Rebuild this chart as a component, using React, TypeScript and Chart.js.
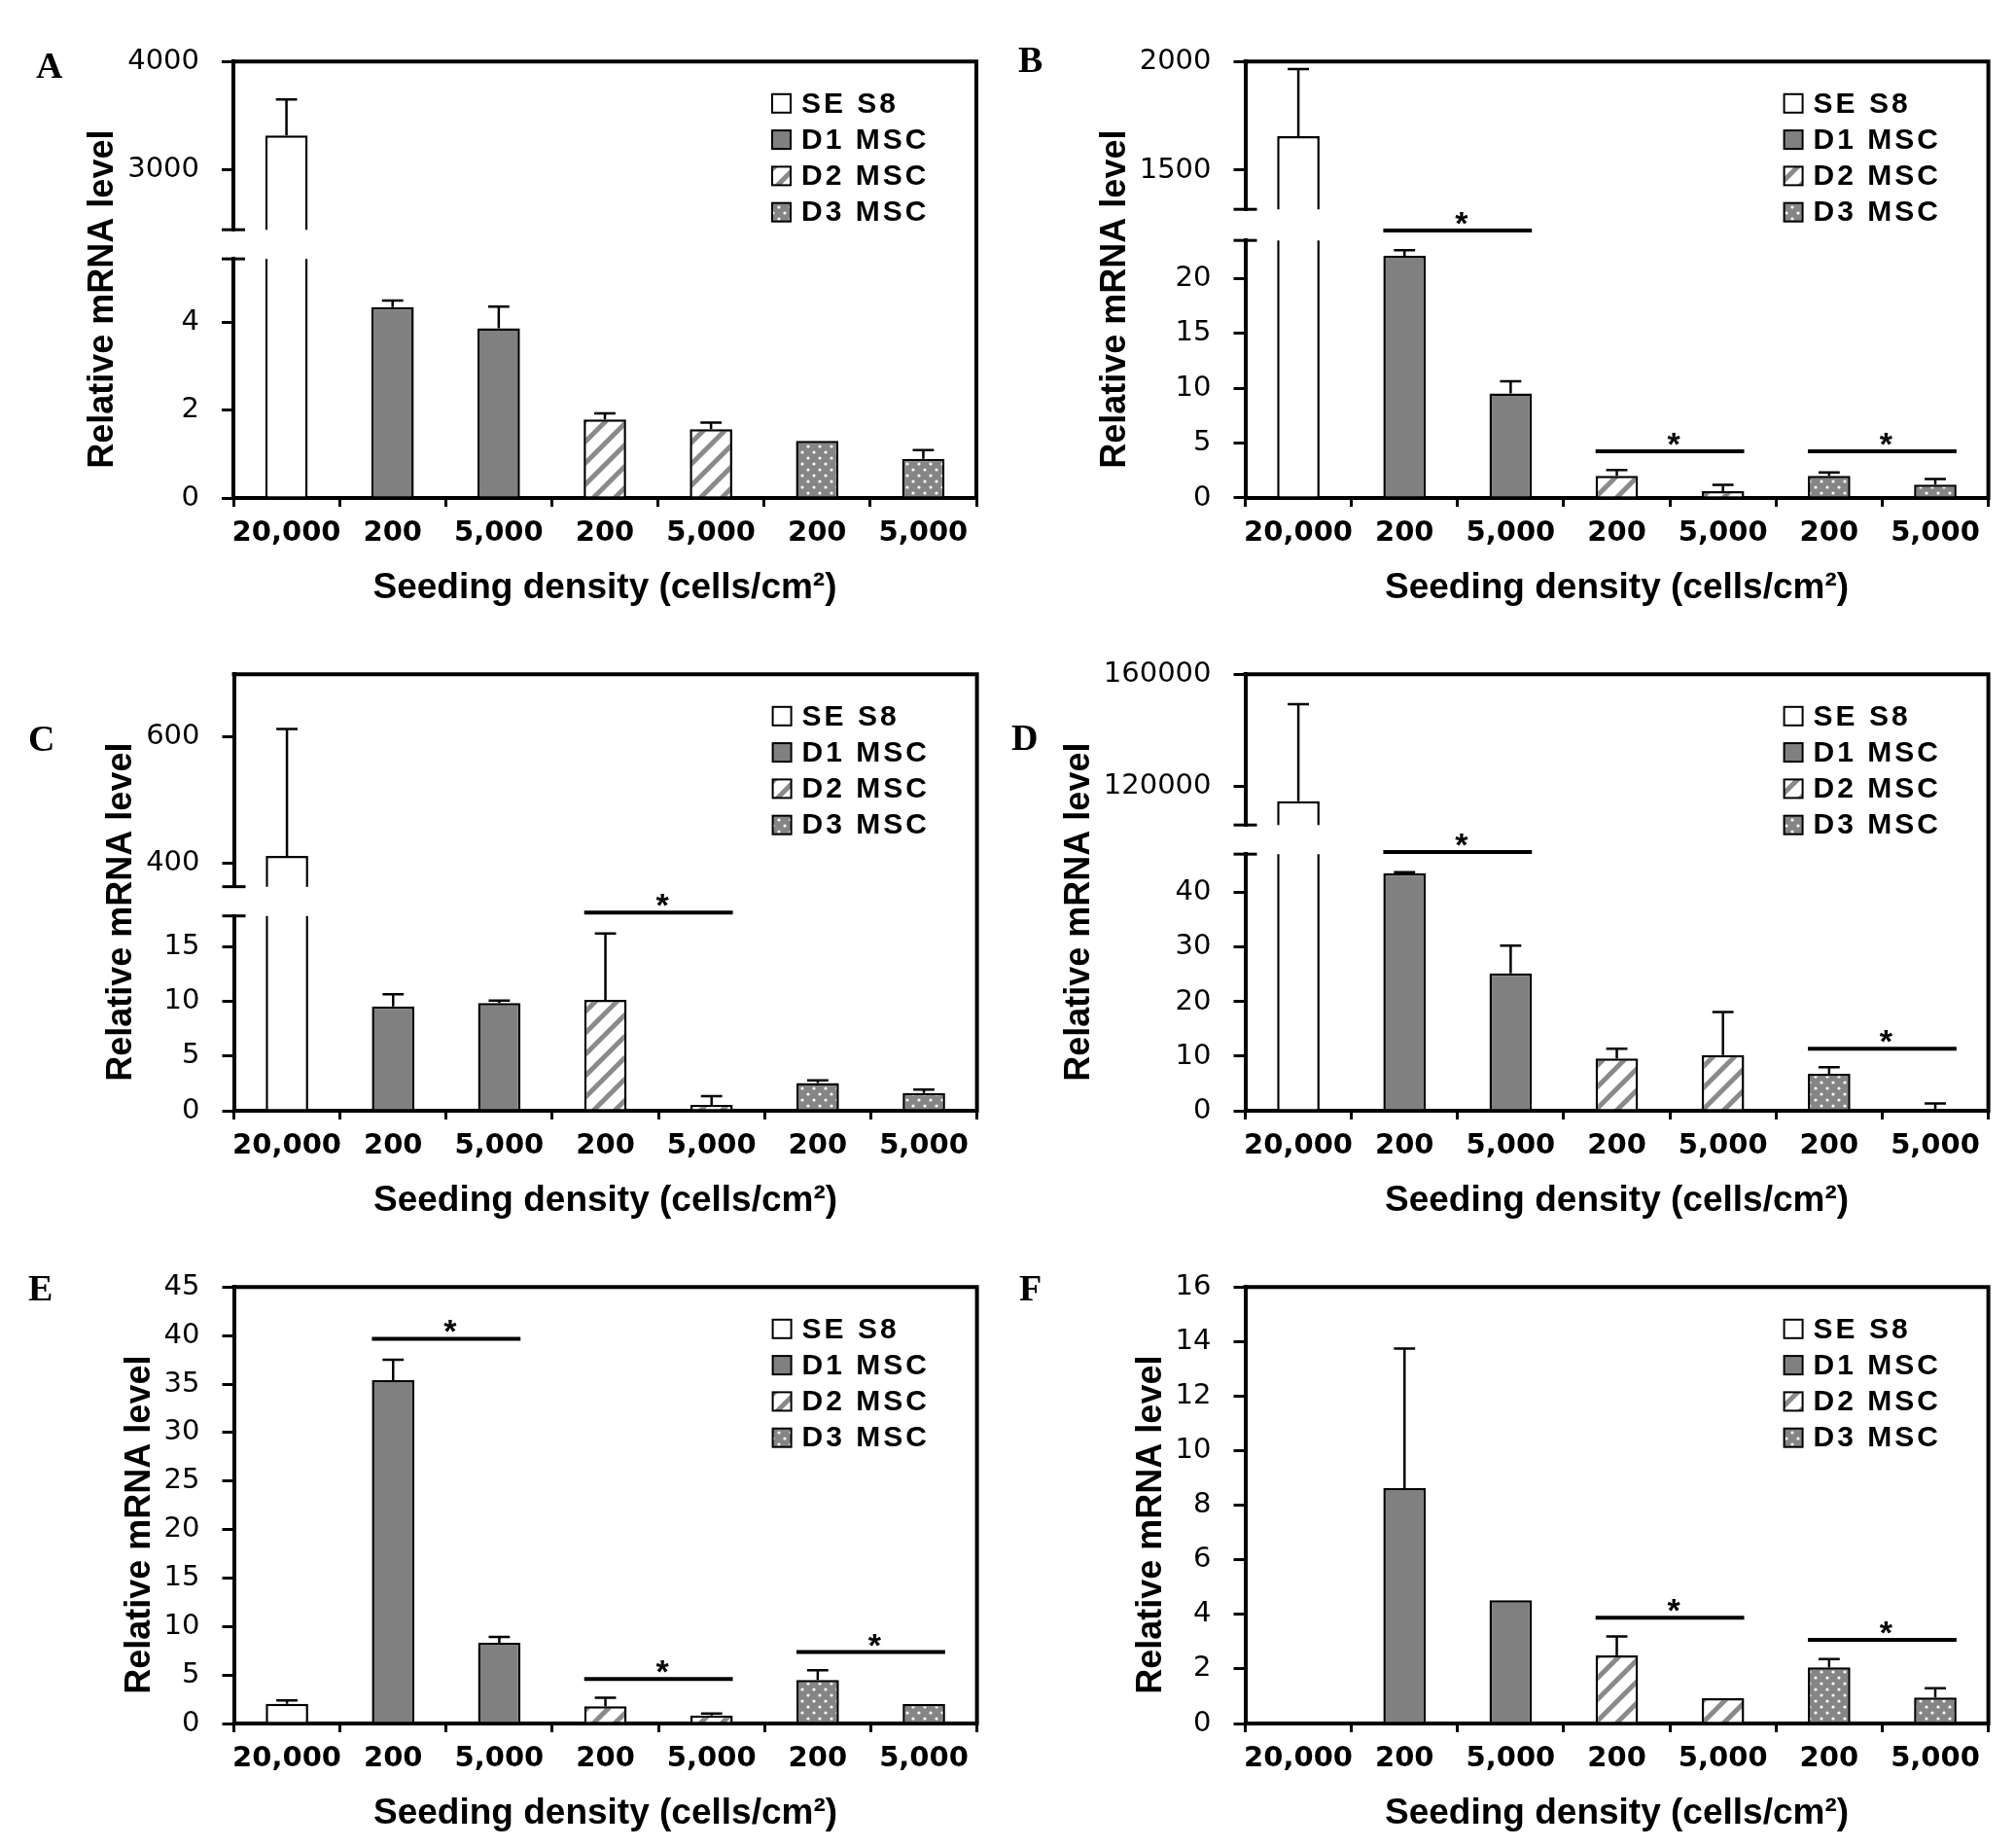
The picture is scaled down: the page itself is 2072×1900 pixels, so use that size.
import React, { useEffect, useRef } from 'react';
import { Chart, registerables } from 'chart.js';

Chart.register(...registerables);

// ---------- shared data ----------
const categories = ['20,000', '200', '5,000', '200', '5,000', '200', '5,000'];
const seriesNames = ['SE S8', 'D1 MSC', 'D2 MSC', 'D3 MSC'];
const seriesOfCategory = [0, 1, 1, 2, 2, 3, 3];
const yTitleText = 'Relative mRNA level';
const xTitleText = 'Seeding density (cells/cm²)';

// ---------- panel A ----------
const aMeans = [3320, 4.35, 3.87, 1.79, 1.57, 1.3, 0.89];
const aErrors = [330, 0.15, 0.49, 0.14, 0.15, 0, 0.2];
const aUpperRange = [2450, 4000];
const aUpperTicks = [3000, 4000];
const aLowerRange = [0, 5.45];
const aLowerTicks = [0, 2, 4];
const aSig: number[][] = [];

// ---------- panel B ----------
const bMeans = [1657, 22.1, 9.55, 2.02, 0.62, 2.02, 1.22];
const bErrors = [308, 0.5, 1.1, 0.54, 0.57, 0.3, 0.5];
const bUpperRange = [1320, 2000];
const bUpperTicks = [1500, 2000];
const bLowerRange = [0, 23.5];
const bLowerTicks = [0, 5, 10, 15, 20];
const bSig = [[1, 2, 24.4], [3, 4, 4.25], [5, 6, 4.25]];

// ---------- panel C ----------
const cMeans = [411, 9.53, 9.85, 10.12, 0.54, 2.53, 1.63];
const cErrors = [202, 1.12, 0.21, 6.08, 0.8, 0.24, 0.31];
const cUpperRange = [362, 700];
const cUpperTicks = [400, 600];
const cLowerRange = [0, 17.8];
const cLowerTicks = [0, 5, 10, 15];
const cSig = [[3, 4, 18.1]];

// ---------- panel D ----------
const dMeans = [114540, 43.6, 25.2, 9.6, 10.2, 6.8, 0.15];
const dErrors = [34760, 0.2, 5.1, 1.8, 7.9, 1.2, 1.2];
const dUpperRange = [106000, 160000];
const dUpperTicks = [120000, 160000];
const dLowerRange = [0, 47.1];
const dLowerTicks = [0, 10, 20, 30, 40];
const dSig = [[1, 2, 47.5], [5, 6, 11.4]];

// ---------- panel E ----------
const eMeans = [2.03, 35.4, 8.33, 1.77, 0.83, 4.5, 2.0];
const eErrors = [0.34, 2.1, 0.6, 0.9, 0.2, 1.0, 0];
const eRange = [0, 45];
const eTicks = [0, 5, 10, 15, 20, 25, 30, 35, 40, 45];
const eSig = [[1, 2, 39.67], [3, 4, 4.6], [5, 6, 7.37]];

// ---------- panel F ----------
const fMeans = [0, 8.63, 4.52, 2.5, 0.93, 2.06, 0.95];
const fErrors = [0, 5.12, 0, 0.69, 0, 0.3, 0.34];
const fRange = [0, 16];
const fTicks = [0, 2, 4, 6, 8, 10, 12, 14, 16];
const fSig = [[3, 4, 3.88], [5, 6, 3.07]];

// ---------- layout ----------
const CW = 1036;
const CH = 630;
const PLOT_TOP = 63.3;
const XAXIS_H = 118;

interface PanelDef {
  letter: string;
  means: number[];
  errors: number[];
  upper?: { range: number[]; ticks: number[] };
  lower: { range: number[]; ticks: number[] };
  sig: number[][];
  left: number;
  top: number;
  axisW: number;
  padRight: number;
  weights?: number[];
  letterX: number;
  letterY: number;
}

const panels: PanelDef[] = [
  { letter: 'A', means: aMeans, errors: aErrors, upper: { range: aUpperRange, ticks: aUpperTicks }, lower: { range: aLowerRange, ticks: aLowerTicks }, sig: aSig, left: 0, top: 0, axisW: 240, padRight: 32, weights: [173, 30, 246], letterX: 37, letterY: 80 },
  { letter: 'B', means: bMeans, errors: bErrors, upper: { range: bUpperRange, ticks: bUpperTicks }, lower: { range: bLowerRange, ticks: bLowerTicks }, sig: bSig, left: 1030, top: 0, axisW: 250.5, padRight: 21.4, weights: [152, 32, 265], letterX: 17, letterY: 74 },
  { letter: 'C', means: cMeans, errors: cErrors, upper: { range: cUpperRange, ticks: cUpperTicks }, lower: { range: cLowerRange, ticks: cLowerTicks }, sig: cSig, left: 0, top: 630, axisW: 240.5, padRight: 31.4, weights: [218, 30, 200], letterX: 29, letterY: 142 },
  { letter: 'D', means: dMeans, errors: dErrors, upper: { range: dUpperRange, ticks: dUpperTicks }, lower: { range: dLowerRange, ticks: dLowerTicks }, sig: dSig, left: 1030, top: 630, axisW: 250.5, padRight: 21.4, weights: [155, 30, 264], letterX: 10, letterY: 141 },
  { letter: 'E', means: eMeans, errors: eErrors, lower: { range: eRange, ticks: eTicks }, sig: eSig, left: 0, top: 1260, axisW: 240.5, padRight: 31.4, letterX: 29, letterY: 77 },
  { letter: 'F', means: fMeans, errors: fErrors, lower: { range: fRange, ticks: fTicks }, sig: fSig, left: 1030, top: 1260, axisW: 250.5, padRight: 21.4, letterX: 18, letterY: 77 },
];

// ---------- fills ----------
function makeFills(): any[] {
  const T = 22;
  const h = document.createElement('canvas');
  h.width = T;
  h.height = T;
  const hg = h.getContext('2d')!;
  hg.fillStyle = '#ffffff';
  hg.fillRect(0, 0, T, T);
  hg.strokeStyle = '#8a8a8a';
  hg.lineWidth = 5;
  hg.beginPath();
  for (let k = -1; k <= 1; k++) {
    hg.moveTo(k * T - 3, T + 3);
    hg.lineTo(k * T + T + 3, -3);
  }
  hg.stroke();

  const D = 12;
  const d = document.createElement('canvas');
  d.width = D;
  d.height = D;
  const dg = d.getContext('2d')!;
  dg.fillStyle = '#858585';
  dg.fillRect(0, 0, D, D);
  dg.fillStyle = '#ffffff';
  [[3, 3], [9, 9]].forEach(([x, y]) => {
    dg.beginPath();
    dg.arc(x, y, 1.6, 0, Math.PI * 2);
    dg.fill();
  });
  return ['#ffffff', '#808080', hg.createPattern(h, 'repeat'), dg.createPattern(d, 'repeat')];
}

const Y_TICK_FONT = { family: 'DejaVu Sans', size: 29, weight: 'normal' as const };
const TICK_LEN = 12;
const TICK_PAD = 23;

function buildChart(canvas: HTMLCanvasElement, p: PanelDef) {
  const fills = makeFills();
  const broken = !!p.upper;
  const axisIds = broken ? ['yHigh', 'yLow'] : ['y'];
  const datasets: any[] = [];
  axisIds.forEach((axisId) => {
    seriesNames.forEach((name, s) => {
      datasets.push({
        label: name,
        data: categories.map((_, i) => (seriesOfCategory[i] === s ? p.means[i] : null)),
        errors: categories.map((_, i) => (seriesOfCategory[i] === s ? p.errors[i] : null)),
        yAxisID: axisId,
        backgroundColor: fills[s],
        borderColor: '#000000',
        borderWidth: 2.5,
        grouped: false,
        barPercentage: 0.4,
        categoryPercentage: 1,
        clip: 0,
      });
    });
  });

  const makeY = (range: number[], ticks: number[], weight: number, stackWeight?: number) => {
    const o: any = {
      type: 'linear',
      position: 'left',
      min: range[0],
      max: range[1],
      weight,
      afterBuildTicks: (sc: any) => {
        sc.ticks = ticks.map((v) => ({ value: v }));
      },
      afterFit: (sc: any) => {
        sc.width = p.axisW;
      },
      ticks: { font: Y_TICK_FONT, color: '#000000', padding: TICK_PAD, callback: (v: any) => String(v) },
      grid: { display: true, drawOnChartArea: false, drawTicks: true, tickLength: TICK_LEN, tickWidth: 3, tickColor: '#000000', color: '#000000', lineWidth: 3 },
      border: { display: true, color: '#000000', width: 4 },
    };
    if (stackWeight !== undefined) {
      o.stack = 'ystack';
      o.stackWeight = stackWeight;
    }
    return o;
  };

  const scales: any = {
    x: {
      type: 'category',
      offset: true,
      grid: { display: true, offset: true, drawOnChartArea: false, drawTicks: true, tickLength: 9, tickWidth: 3, tickColor: '#000000', color: '#000000', lineWidth: 3 },
      border: { display: true, color: '#000000', width: 4 },
      ticks: { font: { family: 'DejaVu Sans', size: 29, weight: 'bold' }, color: '#000000', padding: 10, maxRotation: 0, minRotation: 0, autoSkip: false },
      title: { display: true, text: xTitleText, color: '#000000', font: { family: 'Liberation Sans', size: 37, weight: 'bold' }, padding: { top: 0, bottom: 3 } },
      afterFit: (sc: any) => {
        sc.height = XAXIS_H;
      },
    },
  };
  if (broken) {
    const w = p.weights!;
    scales.yHigh = makeY(p.upper!.range, p.upper!.ticks, 3, w[0]);
    scales.yGap = {
      type: 'linear',
      position: 'left',
      stack: 'ystack',
      stackWeight: w[1],
      weight: 2,
      min: 0,
      max: 1,
      afterFit: (sc: any) => {
        sc.width = p.axisW;
      },
      ticks: { display: false },
      grid: { display: false, drawTicks: false },
      border: { display: false },
    };
    scales.yLow = makeY(p.lower.range, p.lower.ticks, 1, w[2]);
  } else {
    scales.y = makeY(p.lower.range, p.lower.ticks, 1);
  }

  const decor = {
    id: 'decor',
    afterDatasetsDraw(chart: any) {
      const ctx = chart.ctx as CanvasRenderingContext2D;
      const ca = chart.chartArea;
      // error bars
      chart.data.datasets.forEach((ds: any, di: number) => {
        const meta = chart.getDatasetMeta(di);
        const ys = chart.scales[ds.yAxisID];
        ctx.save();
        ctx.beginPath();
        ctx.rect(ca.left, ys.top, ca.right - ca.left, ys.bottom - ys.top);
        ctx.clip();
        ctx.strokeStyle = '#000000';
        ctx.lineWidth = 2.5;
        meta.data.forEach((el: any, i: number) => {
          const v = ds.data[i];
          const e = ds.errors[i];
          if (v == null || !e) return;
          const yTop = ys.getPixelForValue(v + e);
          const yBar = ys.getPixelForValue(v);
          const half = el.width * 0.25;
          ctx.beginPath();
          ctx.moveTo(el.x, yBar);
          ctx.lineTo(el.x, yTop);
          ctx.moveTo(el.x - half, yTop);
          ctx.lineTo(el.x + half, yTop);
          ctx.stroke();
        });
        ctx.restore();
      });
      // significance marks
      const lowId = broken ? 'yLow' : 'y';
      const base = broken ? 4 : 0;
      p.sig.forEach(([from, to, value]) => {
        const elA = chart.getDatasetMeta(base + seriesOfCategory[from]).data[from];
        const elB = chart.getDatasetMeta(base + seriesOfCategory[to]).data[to];
        const x1 = elA.x - elA.width / 2;
        const x2 = elB.x + elB.width / 2;
        const y = chart.scales[lowId].getPixelForValue(value);
        ctx.save();
        ctx.strokeStyle = '#000000';
        ctx.lineWidth = 4;
        ctx.beginPath();
        ctx.moveTo(x1, y);
        ctx.lineTo(x2, y);
        ctx.stroke();
        ctx.fillStyle = '#000000';
        ctx.font = 'bold 34px "Liberation Sans"';
        ctx.textAlign = 'center';
        ctx.textBaseline = 'alphabetic';
        ctx.fillText('*', (x1 + x2) / 2 + 4, y + 4);
        ctx.restore();
      });
    },
    afterDraw(chart: any) {
      const ctx = chart.ctx as CanvasRenderingContext2D;
      const { left, right, top, bottom } = chart.chartArea;
      ctx.save();
      // frame
      ctx.strokeStyle = '#000000';
      ctx.lineWidth = 4;
      ctx.lineJoin = 'miter';
      ctx.beginPath();
      ctx.moveTo(left - 2, top);
      ctx.lineTo(right, top);
      ctx.lineTo(right, bottom + 2);
      ctx.stroke();
      // break caps
      if (broken) {
        ctx.lineWidth = 3;
        [chart.scales.yHigh.bottom, chart.scales.yLow.top].forEach((y: number) => {
          ctx.beginPath();
          ctx.moveTo(left - 12, y);
          ctx.lineTo(left + 12, y);
          ctx.stroke();
        });
      }
      // legend
      const bx = right - 210;
      seriesNames.forEach((name, s) => {
        const cy = top + 43 + s * 37.3;
        ctx.fillStyle = fills[s];
        ctx.fillRect(bx, cy - 9.5, 19, 19);
        ctx.lineWidth = 2;
        ctx.strokeStyle = '#000000';
        ctx.strokeRect(bx, cy - 9.5, 19, 19);
        ctx.fillStyle = '#000000';
        ctx.font = 'bold 30px "Liberation Sans"';
        ctx.textAlign = 'left';
        ctx.textBaseline = 'middle';
        (ctx as any).letterSpacing = '3px';
        ctx.fillText(name, bx + 30, cy + 1);
        (ctx as any).letterSpacing = '0px';
      });
      // y title
      ctx.font = `${Y_TICK_FONT.size}px "${Y_TICK_FONT.family}"`;
      let maxW = 0;
      axisIds.forEach((id) => {
        chart.scales[id].ticks.forEach((t: any) => {
          maxW = Math.max(maxW, ctx.measureText(String(t.value)).width);
        });
      });
      const xb = left - TICK_LEN - TICK_PAD - maxW - 15;
      const cy = (top + bottom) / 2 + 20;
      ctx.save();
      ctx.translate(xb, cy);
      ctx.rotate(-Math.PI / 2);
      ctx.font = 'bold 36px "Liberation Sans"';
      ctx.textAlign = 'center';
      ctx.textBaseline = 'alphabetic';
      ctx.fillStyle = '#000000';
      ctx.fillText(yTitleText, 0, 0);
      ctx.restore();
      // panel letter
      ctx.font = 'bold 38px "Liberation Serif"';
      ctx.textAlign = 'left';
      ctx.textBaseline = 'alphabetic';
      ctx.fillStyle = '#000000';
      ctx.fillText(p.letter, p.letterX, p.letterY);
      ctx.restore();
    },
  };

  return new Chart(canvas, {
    type: 'bar',
    data: { labels: categories, datasets },
    options: {
      responsive: false,
      animation: false,
      devicePixelRatio: 1,
      events: [],
      layout: { padding: { left: 0, top: PLOT_TOP, right: p.padRight, bottom: 0 } },
      plugins: { legend: { display: false }, tooltip: { enabled: false }, title: { display: false } },
      scales,
    } as any,
    plugins: [decor],
  });
}

function Panel({ def }: { def: PanelDef }) {
  const ref = useRef<HTMLCanvasElement>(null);
  useEffect(() => {
    if (!ref.current) return;
    const chart = buildChart(ref.current, def);
    return () => chart.destroy();
  }, [def]);
  return (
    <canvas
      ref={ref}
      width={CW}
      height={CH}
      style={{ position: 'absolute', left: def.left, top: def.top, width: CW, height: CH, display: 'block' }}
    />
  );
}

export default function App() {
  Chart.defaults.font.family = 'Liberation Sans';
  return (
    <div style={{ position: 'absolute', left: 0, top: 0, width: 2072, height: 1900, background: '#ffffff', overflow: 'hidden' }}>
      {panels.map((p) => (
        <Panel key={p.letter} def={p} />
      ))}
    </div>
  );
}
